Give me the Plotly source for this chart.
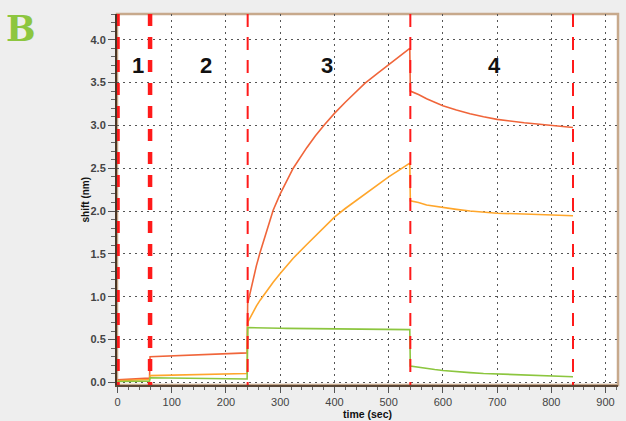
import plotly.graph_objects as go

# ---- data ----
time_s = [0, 30, 59, 60, 100, 150, 200, 239, 240, 245, 250, 256, 263, 275, 287, 300,
          312, 324, 349, 365, 382, 400, 420, 440, 456, 480, 500, 520, 539, 540, 555,
          570, 585, 600, 625, 650, 675, 700, 750, 800, 840]

shift_red = [0.03, 0.04, 0.05, 0.30, 0.31, 0.325, 0.335, 0.345, 0.92, 1.07, 1.21, 1.36,
             1.52, 1.78, 2.01, 2.20, 2.36, 2.50, 2.74, 2.88, 3.01, 3.14, 3.27, 3.39, 3.49,
             3.61, 3.71, 3.81, 3.90, 3.40, 3.36, 3.31, 3.27, 3.23, 3.18, 3.135, 3.10,
             3.07, 3.03, 3.00, 2.975]

shift_orange = [0.02, 0.03, 0.035, 0.08, 0.085, 0.09, 0.10, 0.105, 0.70, 0.765, 0.825,
                0.89, 0.96, 1.07, 1.17, 1.27, 1.36, 1.45, 1.61, 1.71, 1.82, 1.93, 2.03,
                2.125, 2.20, 2.31, 2.40, 2.48, 2.56, 2.12, 2.10, 2.07, 2.055, 2.04, 2.02,
                2.00, 1.985, 1.975, 1.965, 1.957, 1.945]

shift_green = [0.01, 0.01, 0.015, 0.055, 0.05, 0.045, 0.04, 0.04, 0.64, 0.64, 0.639,
               0.638, 0.637, 0.635, 0.634, 0.632, 0.631, 0.630, 0.628, 0.627, 0.626,
               0.625, 0.624, 0.623, 0.622, 0.621, 0.620, 0.618, 0.616, 0.19, 0.175,
               0.16, 0.15, 0.14, 0.125, 0.115, 0.105, 0.098, 0.088, 0.078, 0.066]

boundary_times = [0, 60, 240, 540, 840]
phase_labels = ["1", "2", "3", "4"]
phase_label_x = [38, 163, 387, 696]
phase_label_y = 3.70

x_range = [-1, 923]
y_range = [-0.03, 4.3]

# ---- figure ----
fig = go.Figure()

series = [(shift_red, "#f0653a"), (shift_orange, "#ffa62b"), (shift_green, "#8cc63f")]
for vals, col in series:
    fig.add_trace(go.Scatter(x=time_s, y=vals, mode="lines",
                             line=dict(color=col, width=1.6), hoverinfo="skip"))

for i, b in enumerate(boundary_times):
    thick = i < 2
    fig.add_trace(go.Scatter(
        x=[b, b], y=[y_range[1], y_range[0]], mode="lines",
        line=dict(color="#ff1a1a", width=4.5 if thick else 2,
                  dash="12px,11px" if thick else "13px,10px"),
        hoverinfo="skip"))

for lab, lx in zip(phase_labels, phase_label_x):
    fig.add_annotation(x=lx, y=phase_label_y, text=lab, showarrow=False,
                       font=dict(family="Liberation Sans", size=22, color="#111",
                                 weight="bold"))

# panel letter
fig.add_annotation(xref="paper", yref="paper", x=0, y=1, xshift=-96, yshift=-14.5,
                   text="B", showarrow=False, xanchor="center", yanchor="middle",
                   font=dict(family="DejaVu Serif", size=35, color="#8dc63f",
                             weight="bold"))

# axis titles
fig.add_annotation(xref="paper", yref="paper", x=0.5, y=0, yshift=-28.5,
                   text="time (sec)", showarrow=False, yanchor="middle",
                   font=dict(family="Liberation Sans", size=10.5, color="#111",
                             weight="bold"))
fig.add_annotation(xref="paper", yref="paper", x=0, y=0.5, xshift=-32,
                   text="shift (nm)", showarrow=False, textangle=-90,
                   xanchor="center", yanchor="middle",
                   font=dict(family="Liberation Sans", size=10, color="#111",
                             weight="bold"))

# frame (top / right tan border)
fig.add_shape(type="rect", xref="x domain", yref="y domain", x0=0, x1=1, y0=0, y1=1,
              line=dict(color="#c7a98c", width=2.5), layer="below")

fig.update_layout(
    width=626, height=421,
    margin=dict(l=117, r=8, t=14, b=36),
    paper_bgcolor="#eeeeee", plot_bgcolor="white",
    showlegend=False,
)

fig.update_xaxes(
    range=x_range, tick0=0, dtick=100, ticks="outside", ticklen=6, tickcolor="#555",
    showline=True, linecolor="#5a4636", linewidth=1.5,
    showgrid=True, gridcolor="#555", gridwidth=1, griddash="2px,4px",
    zeroline=False, ticklabelstandoff=0,
    tickfont=dict(family="Liberation Sans", size=11, color="#444"),
    minor=dict(dtick=20, ticks="outside", ticklen=3, tickcolor="#666", showgrid=False),
)
fig.update_yaxes(
    range=y_range, tick0=0, dtick=0.5, tickformat=".1f", ticks="outside", ticklen=7,
    tickcolor="#555", showline=True, linecolor="#4a3626", linewidth=2,
    showgrid=True, gridcolor="#555", gridwidth=1, griddash="2px,4px",
    zeroline=False,
    tickfont=dict(family="Liberation Sans", size=11, color="#444", weight="bold"),
    minor=dict(dtick=0.1, ticks="outside", ticklen=4, tickcolor="#666", showgrid=False),
)

fig.write_html("out.html",
               config={"displayModeBar": False},
               post_script="document.body.style.margin='0';"
                           "document.body.style.background='#eeeeee';")
